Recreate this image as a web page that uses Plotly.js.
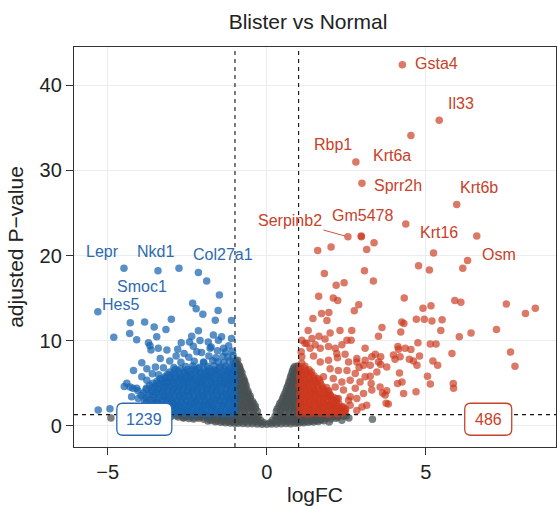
<!DOCTYPE html>
<html>
<head>
<meta charset="utf-8">
<script src="https://cdn.plot.ly/plotly-3.0.1.min.js"></script>
<style>html,body{margin:0;padding:0;background:#fff;}#chart{width:557px;height:506px;}</style>
</head>
<body>
<div id="chart"></div>
<script>
// ---------------- data (logFC, -log10 adjusted P) ----------------
const grayPts = [
[-2.85,1.18],[-2.70,1.22],[-2.55,1.15],[-2.40,1.24],[-2.25,1.19],[-2.10,1.12],[-1.95,1.25],[-1.80,1.20],[-1.65,1.16],[-1.50,1.23],[-1.35,1.14],[-1.20,1.21],[-1.05,1.26],
[1.05,1.20],[1.20,1.15],[1.35,1.24],[1.50,1.18],[1.65,1.22],[1.80,1.13],[1.95,1.25],[2.10,1.19],[2.25,1.16],[2.40,1.10],
[-2.78,1.02],[-2.62,0.98],[-2.47,1.05],[-2.32,0.96],[-2.17,1.03],[-2.02,0.99],[-1.87,1.06],[-1.72,0.94],[-1.57,1.01],[-1.42,0.97],[-1.28,1.04],[-1.12,0.95],
[1.12,1.00],[1.27,0.96],[1.42,1.04],[1.58,0.98],[1.73,1.02],[1.88,0.95],[2.05,1.05],[2.22,0.99],
[-2.62,0.92],[-2.45,0.85],[-2.30,0.80],[-2.14,0.88],[-1.98,0.76],[-1.82,0.83],[-1.67,0.72],[-1.52,0.79],[-1.37,0.70],[-1.22,0.75],[-1.07,0.68],
[1.08,0.72],[1.23,0.78],[1.38,0.70],[1.54,0.82],[1.70,0.76],[1.85,0.85],[2.02,0.80],[2.18,0.88],
[-1.85,0.55],[-1.62,0.48],[-1.45,0.42],[-1.30,0.36],[-1.15,0.33],[-1.02,0.30],[1.02,0.31],[1.16,0.36],[1.31,0.40],[1.47,0.45],[1.62,0.50],[1.80,0.58],
[-1.75,0.62],[-1.55,0.55],[-1.38,0.52],[-1.22,0.50],[-1.08,0.48],[-0.95,0.46],[-0.82,0.50],[-0.67,0.47],[-0.52,0.52],[-0.38,0.45],[-0.24,0.40],[-0.10,0.35],
[0.10,0.36],[0.24,0.42],[0.38,0.47],[0.52,0.51],[0.67,0.46],[0.82,0.49],[0.95,0.45],[1.10,0.50],[1.24,0.53],[1.40,0.55],[1.55,0.60],[1.70,0.66],
[-0.90,0.28],[-0.75,0.25],[-0.60,0.22],[-0.45,0.24],[-0.30,0.20],[-0.15,0.18],[0.00,0.17],[0.15,0.19],[0.30,0.21],[0.45,0.23],[0.60,0.26],[0.75,0.24],[0.90,0.29],
[-0.95,0.78],[-0.80,0.72],[-0.65,0.80],[-0.50,0.70],[-0.34,0.74],[-0.19,0.62],[0.18,0.64],[0.33,0.72],[0.48,0.79],[0.63,0.71],[0.79,0.77],[0.95,0.73],
[-0.90,1.00],[-0.74,0.96],[-0.59,1.03],[-0.44,0.95],[-0.31,0.98],[0.31,0.97],[0.46,1.02],[0.61,0.94],[0.76,1.01],[0.90,0.99],
[-0.97,1.22],[-0.82,1.18],[-0.67,1.25],[-0.52,1.15],[-0.38,1.20],[-0.26,1.12],[0.26,1.10],[0.40,1.22],[0.54,1.14],[0.69,1.24],[0.84,1.19],[0.97,1.26],
[-0.97,1.68],[-0.84,1.75],[-0.70,1.66],[-0.56,1.72],[-0.42,1.64],[-0.30,1.70],
[-0.91,2.00],[-0.77,1.96],[-0.63,2.04],[-0.49,1.98],[-0.36,2.02],
[-0.98,2.25],[-0.85,2.32],[-0.71,2.28],[-0.58,2.35],[-0.45,2.22],[-0.36,2.30],
[-0.90,2.60],[-0.77,2.56],[-0.64,2.63],[-0.51,2.58],[-0.41,2.62],
[-0.96,2.88],[-0.83,2.95],[-0.69,2.85],[-0.55,2.92],[-0.45,2.86],
[-0.91,3.20],[-0.78,3.16],[-0.65,3.23],[-0.52,3.18],
[-0.98,3.48],[-0.85,3.55],[-0.72,3.45],[-0.60,3.52],[-0.52,3.46],
[-0.91,3.80],[-0.78,3.76],[-0.65,3.83],[-0.57,3.78],
[-0.97,4.08],[-0.84,4.15],[-0.71,4.05],[-0.60,4.12],
[-0.91,4.40],[-0.78,4.36],[-0.66,4.43],
[-0.98,4.68],[-0.85,4.75],[-0.73,4.66],[-0.65,4.72],
[-0.91,5.00],[-0.79,4.96],[-0.69,5.03],
[-0.97,5.28],[-0.85,5.35],[-0.74,5.25],[-0.70,5.30],
[-0.92,5.60],[-0.82,5.56],[-0.74,5.63],
[-0.98,5.88],[-0.87,5.95],[-0.78,5.85],
[-0.92,6.20],[-0.84,6.16],[-0.78,6.23],
[-0.97,6.45],[-0.88,6.55],[-0.82,6.48],
[-0.93,6.80],[-0.85,6.76],
[-0.98,7.05],[-0.90,7.15],[-0.86,7.00],
[-0.97,7.60],[-0.92,7.70],[-0.99,7.35],
[0.30,1.66],[0.43,1.72],[0.56,1.68],[0.70,1.75],[0.84,1.64],[0.97,1.70],
[0.33,2.00],[0.46,1.96],[0.60,2.04],[0.74,1.98],[0.88,2.02],
[0.38,2.28],[0.50,2.34],[0.63,2.25],[0.76,2.31],[0.88,2.36],[0.98,2.27],
[0.41,2.60],[0.54,2.56],[0.67,2.63],[0.80,2.58],[0.93,2.62],
[0.46,2.86],[0.58,2.93],[0.70,2.88],[0.83,2.95],[0.96,2.90],
[0.50,3.20],[0.62,3.16],[0.75,3.23],[0.88,3.18],
[0.53,3.46],[0.64,3.53],[0.76,3.48],[0.88,3.55],[0.98,3.50],
[0.57,3.80],[0.69,3.76],[0.82,3.83],[0.94,3.78],
[0.60,4.06],[0.71,4.13],[0.83,4.08],[0.96,4.15],
[0.63,4.40],[0.75,4.36],[0.88,4.43],
[0.66,4.66],[0.77,4.74],[0.88,4.70],[0.98,4.76],
[0.69,5.00],[0.80,4.96],[0.92,5.03],
[0.71,5.26],[0.81,5.33],[0.91,5.28],[0.99,5.35],
[0.74,5.60],[0.85,5.56],[0.95,5.63],
[0.76,5.86],[0.86,5.94],[0.96,5.90],
[0.79,6.20],[0.89,6.16],[0.98,6.23],
[0.81,6.46],[0.90,6.53],[0.98,6.48],
[0.84,6.75],[0.93,6.72],
[0.88,6.95],[0.97,7.02],
[-4.90,0.90],[-3.02,1.05],[-3.18,1.20],[2.36,0.65],[3.32,0.75],[2.58,0.92],[2.50,1.15],[1.96,0.45]
];

const downPts = [
[-3.32,1.42],[-3.18,1.51],[-3.02,1.38],[-2.88,1.47],[-2.71,1.55],[-2.57,1.40],[-2.43,1.49],[-2.26,1.36],[-2.12,1.52],[-1.97,1.44],[-1.83,1.39],[-1.66,1.50],[-1.52,1.43],[-1.38,1.37],[-1.22,1.48],[-1.08,1.41],
[-3.45,1.72],[-3.25,1.66],[-3.10,1.75],[-2.95,1.69],[-2.80,1.78],[-2.64,1.64],[-2.50,1.71],[-2.34,1.77],[-2.19,1.68],[-2.04,1.74],[-1.90,1.65],[-1.74,1.79],[-1.59,1.70],[-1.45,1.67],[-1.30,1.76],[-1.15,1.73],[-1.02,1.69],
[-3.55,1.98],[-3.40,1.90],[-3.24,2.04],[-3.10,1.93],[-2.95,1.99],[-2.80,2.08],[-2.64,1.88],[-2.50,1.96],[-2.35,2.05],[-2.20,1.91],[-2.05,2.01],[-1.90,1.94],[-1.75,2.10],[-1.60,1.87],[-1.45,1.97],[-1.30,2.03],[-1.15,1.92],[-1.03,2.00],
[-3.62,2.22],[-3.45,2.30],[-3.30,2.18],[-3.16,2.27],[-3.00,2.33],[-2.86,2.20],[-2.71,2.29],[-2.56,2.24],[-2.42,2.35],[-2.27,2.19],[-2.12,2.28],[-1.97,2.23],[-1.82,2.31],[-1.67,2.17],[-1.52,2.26],[-1.37,2.34],[-1.22,2.21],[-1.07,2.29],
[-3.70,2.45],[-3.52,2.58],[-3.36,2.49],[-3.21,2.41],[-3.05,2.55],[-2.91,2.62],[-2.76,2.47],[-2.60,2.52],[-2.46,2.39],[-2.31,2.60],[-2.16,2.50],[-2.01,2.44],[-1.87,2.57],[-1.71,2.48],[-1.57,2.63],[-1.41,2.42],[-1.27,2.54],[-1.12,2.46],[-1.01,2.59],
[-3.78,2.78],[-3.60,2.85],[-3.43,2.74],[-3.27,2.88],[-3.12,2.80],[-2.97,2.72],[-2.83,2.86],[-2.68,2.77],[-2.53,2.90],[-2.38,2.75],[-2.23,2.83],[-2.08,2.79],[-1.94,2.87],[-1.79,2.73],[-1.64,2.82],[-1.49,2.89],[-1.34,2.76],[-1.19,2.84],[-1.04,2.81],
[-3.85,3.02],[-3.66,3.12],[-3.48,2.98],[-3.30,3.08],[-3.14,3.15],[-2.99,2.95],[-2.83,3.05],[-2.68,3.18],[-2.53,3.00],[-2.38,3.10],[-2.22,2.97],[-2.08,3.14],[-1.93,3.03],[-1.78,2.96],[-1.63,3.11],[-1.48,3.06],[-1.33,2.99],[-1.19,3.16],[-1.05,3.04],
[-3.80,3.30],[-3.57,3.38],[-3.40,3.33],[-3.22,3.42],[-3.06,3.28],[-2.91,3.36],[-2.75,3.44],[-2.61,3.31],[-2.45,3.39],[-2.30,3.27],[-2.15,3.35],[-2.00,3.43],[-1.85,3.29],[-1.70,3.37],[-1.56,3.32],[-1.41,3.40],[-1.26,3.34],[-1.12,3.26],[-1.01,3.41],
[-3.95,3.55],[-3.72,3.66],[-3.55,3.58],[-3.38,3.70],[-3.22,3.52],[-3.06,3.63],[-2.90,3.69],[-2.74,3.54],[-2.59,3.61],[-2.44,3.72],[-2.29,3.56],[-2.14,3.65],[-1.98,3.59],[-1.84,3.74],[-1.69,3.57],[-1.54,3.62],[-1.39,3.68],[-1.24,3.53],[-1.09,3.64],
[-3.88,3.85],[-3.64,3.93],[-3.47,3.88],[-3.30,3.97],[-3.14,3.82],[-2.98,3.90],[-2.82,3.95],[-2.67,3.84],[-2.51,3.92],[-2.36,3.87],[-2.21,3.98],[-2.06,3.83],[-1.91,3.91],[-1.76,3.86],[-1.61,3.96],[-1.46,3.89],[-1.31,3.81],[-1.16,3.94],[-1.04,3.88],
[-4.05,4.10],[-3.80,4.22],[-3.60,4.12],[-3.42,4.25],[-3.26,4.08],[-3.11,4.18],[-2.95,4.27],[-2.79,4.11],[-2.63,4.20],[-2.49,4.14],[-2.33,4.24],[-2.18,4.09],[-2.03,4.19],[-1.88,4.28],[-1.72,4.13],[-1.58,4.21],[-1.43,4.07],[-1.28,4.26],[-1.13,4.16],[-1.02,4.12],
[-3.78,4.42],[-3.58,4.50],[-3.41,4.38],[-3.25,4.47],[-3.09,4.53],[-2.93,4.40],[-2.77,4.49],[-2.62,4.44],[-2.47,4.55],[-2.32,4.39],[-2.17,4.46],[-2.02,4.52],[-1.87,4.41],[-1.72,4.48],[-1.57,4.43],[-1.42,4.51],[-1.27,4.37],[-1.12,4.47],
[-3.68,4.75],[-3.50,4.66],[-3.33,4.80],[-3.17,4.70],[-3.01,4.62],[-2.86,4.78],[-2.70,4.68],[-2.55,4.83],[-2.40,4.64],[-2.25,4.74],[-2.10,4.81],[-1.95,4.67],[-1.80,4.77],[-1.65,4.63],[-1.50,4.72],[-1.35,4.85],[-1.20,4.69],[-1.06,4.79],
[-3.58,4.98],[-3.40,5.05],[-3.24,4.95],[-3.09,5.08],[-2.93,5.02],[-2.78,4.94],[-2.62,5.06],[-2.47,5.00],[-2.32,5.10],[-2.17,4.96],[-2.02,5.04],[-1.87,4.99],[-1.72,5.07],[-1.57,4.93],[-1.42,5.03],[-1.27,5.09],[-1.12,4.97],[-1.02,5.01],
[-3.45,5.22],[-3.28,5.35],[-3.12,5.18],[-2.97,5.30],[-2.81,5.26],[-2.66,5.38],[-2.51,5.20],[-2.36,5.33],[-2.21,5.24],[-2.06,5.16],[-1.91,5.36],[-1.76,5.28],[-1.61,5.21],[-1.46,5.34],[-1.31,5.19],[-1.16,5.31],[-1.03,5.27],
[-3.35,5.52],[-3.19,5.58],[-3.04,5.49],[-2.89,5.60],[-2.74,5.55],[-2.59,5.47],[-2.44,5.62],[-2.28,5.51],[-2.12,5.57],[-1.97,5.48],[-1.81,5.61],[-1.65,5.53],[-1.50,5.59],[-1.35,5.46],[-1.19,5.56],[-1.06,5.50],
[-3.20,5.75],[-3.02,5.88],[-2.85,5.80],[-2.68,5.72],[-2.52,5.90],[-2.37,5.78],[-2.19,5.84],[-2.04,5.70],[-1.88,5.86],[-1.73,5.79],[-1.57,5.92],[-1.42,5.74],[-1.27,5.83],[-1.12,5.77],[-1.02,5.89],
[-3.12,6.05],[-2.94,6.15],[-2.76,6.08],[-2.58,6.12],[-2.41,6.02],[-2.25,6.17],[-2.10,6.06],[-1.95,6.13],[-1.80,6.00],[-1.64,6.16],[-1.49,6.09],[-1.33,6.04],[-1.18,6.14],[-1.04,6.07],
[-3.05,6.30],[-2.78,6.42],[-2.60,6.28],[-2.42,6.38],[-2.24,6.45],[-2.08,6.25],[-1.90,6.40],[-1.74,6.33],[-1.58,6.47],[-1.40,6.29],[-1.25,6.41],[-1.10,6.36],
[-2.88,6.62],[-2.70,6.70],[-2.50,6.58],[-2.32,6.66],[-2.15,6.72],[-1.98,6.60],[-1.81,6.68],[-1.66,6.56],[-1.50,6.74],[-1.33,6.63],[-1.17,6.69],[-1.03,6.61],
[-2.92,6.85],[-2.55,6.95],[-2.33,7.02],[-2.12,6.88],[-1.86,6.97],[-1.65,7.05],[-1.46,6.90],[-1.30,6.99],[-1.14,6.86],[-1.03,7.04],
[-2.70,7.45],[-2.28,7.58],[-1.98,7.40],[-1.70,7.62],[-1.52,7.50],[-1.35,7.44],[-1.18,7.60],[-1.05,7.52],
[-2.45,8.05],[-1.82,8.20],[-1.60,7.98],[-1.38,8.15],[-1.22,8.08],[-1.06,8.25],
[-2.05,8.60],[-1.55,8.80],[-1.30,8.65],[-1.08,8.75],[-1.75,9.25],[-1.20,9.40],
[-3.35,7.90],[-3.05,7.60],[-2.85,8.20],[-3.50,6.90],[-3.25,6.80],[-2.60,8.50],[-2.20,8.70],[-3.60,6.10],[-3.40,6.00],
[-1.89,17.0],[-1.49,15.35],[-2.33,14.4],[-2.22,13.75],[-1.53,13.55],[-2.01,13.1],[-3.00,12.5],[-1.62,12.4],[-1.11,12.35],
[-4.29,12.1],[-3.54,11.6],[-3.17,11.3],[-2.15,11.15],[-4.31,10.85],[-3.46,10.45],[-4.81,10.4],[-4.09,10.1],
[-2.36,10.5],[-1.68,10.65],[-1.42,10.45],[-1.11,10.25],[-2.10,10.0],[-3.72,9.75],[-3.67,9.4],[-2.69,9.75],[-2.43,9.85],
[-1.84,9.85],[-1.52,10.05],[-3.41,9.1],[-3.14,8.9],[-2.80,9.0],[-2.31,9.35],[-1.78,9.1],[-1.36,9.1],[-3.64,8.9],
[-3.93,7.4],[-1.99,7.5],[-4.19,6.5],[-3.77,6.7],[-3.93,5.75],[-3.77,5.35],[-4.40,5.0],[-4.48,4.6],[-4.21,4.4],
[-4.30,4.55],[-4.09,4.4],[-4.25,3.4],[-4.04,3.2],[-5.30,1.85],[-4.93,2.0],[-2.76,18.5]
];

const upPts = [
[1.03,1.42],[1.15,1.50],[1.28,1.38],[1.41,1.47],[1.55,1.53],[1.68,1.40],[1.82,1.45],[1.95,1.36],[2.09,1.49],[2.22,1.41],[2.36,1.52],
[1.09,1.72],[1.22,1.66],[1.35,1.75],[1.48,1.69],[1.62,1.78],[1.75,1.64],[1.88,1.71],[2.02,1.77],[2.16,1.68],[2.30,1.74],[2.45,1.65],
[1.05,1.98],[1.19,2.06],[1.33,1.93],[1.47,2.02],[1.61,1.95],[1.74,2.09],[1.88,1.90],[2.02,2.04],[2.15,1.97],[2.30,2.08],[2.48,1.94],
[1.10,2.22],[1.24,2.30],[1.38,2.18],[1.52,2.27],[1.66,2.33],[1.80,2.20],[1.94,2.29],[2.08,2.24],[2.22,2.35],[2.38,2.19],
[1.02,2.52],[1.14,2.60],[1.29,2.47],[1.43,2.56],[1.57,2.63],[1.70,2.49],[1.84,2.58],[1.98,2.45],[2.12,2.61],[2.27,2.54],
[1.07,2.78],[1.21,2.85],[1.35,2.74],[1.49,2.88],[1.63,2.80],[1.77,2.72],[1.91,2.86],[2.05,2.77],[2.19,2.90],
[1.06,3.08],[1.20,3.15],[1.34,3.02],[1.48,3.12],[1.62,3.05],[1.76,3.18],[1.90,3.00],[2.05,3.10],[2.20,3.16],
[1.11,3.30],[1.25,3.38],[1.39,3.33],[1.53,3.42],[1.67,3.28],[1.81,3.36],[1.95,3.44],[2.10,3.31],
[1.03,3.62],[1.16,3.70],[1.30,3.58],[1.44,3.67],[1.58,3.74],[1.72,3.60],[1.86,3.69],[2.00,3.56],
[1.09,3.85],[1.23,3.93],[1.37,3.88],[1.51,3.97],[1.65,3.82],[1.80,3.90],[1.94,3.95],
[1.08,4.18],[1.22,4.25],[1.36,4.12],[1.50,4.22],[1.64,4.15],[1.79,4.28],[1.95,4.10],
[1.05,4.42],[1.18,4.50],[1.32,4.38],[1.46,4.47],[1.60,4.53],[1.75,4.40],[1.88,4.49],
[1.02,4.72],[1.15,4.80],[1.29,4.68],[1.43,4.77],[1.58,4.83],[1.73,4.70],
[1.10,4.98],[1.24,5.05],[1.38,4.95],[1.53,5.08],[1.68,5.02],
[1.06,5.28],[1.20,5.35],[1.35,5.22],[1.50,5.31],[1.66,5.38],
[1.04,5.52],[1.19,5.58],[1.33,5.49],[1.48,5.60],[1.60,5.55],
[1.03,5.82],[1.17,5.90],[1.32,5.78],[1.48,5.88],
[1.10,6.05],[1.25,6.15],[1.38,6.08],
[1.08,6.38],[1.24,6.45],[1.40,6.32],
[1.05,6.62],[1.19,6.70],[1.33,6.58],
[1.04,6.92],[1.20,7.00],[1.10,7.35],
[2.97,22.3],[3.37,21.5],[3.14,20.7],[2.02,21.0],[1.60,20.6],[6.16,18.5],[5.24,20.3],[4.77,18.8],[5.11,18.3],[4.37,23.7],
[1.81,17.9],[3.07,18.2],[3.35,17.0],[2.43,16.8],[2.18,16.5],[1.63,15.2],[2.09,15.0],[2.23,14.7],[2.89,14.2],[4.32,15.0],
[4.91,13.8],[5.16,14.1],[5.91,14.7],[6.10,14.5],[7.53,14.3],[8.13,13.2],[8.44,13.8],[2.75,13.5],[1.72,13.2],[1.95,13.3],
[1.45,12.6],[1.89,12.35],[4.24,12.2],[4.31,12.0],[4.70,12.5],[4.95,12.5],[5.19,12.3],[5.51,12.45],[3.62,11.55],[1.30,11.2],
[2.30,11.2],[2.67,11.2],[4.21,11.0],[5.47,11.2],[6.42,10.9],[7.22,11.3],[3.51,10.5],[6.05,10.45],[1.64,10.5],[1.99,10.9],
[1.83,10.2],[2.52,10.05],[2.65,10.05],[1.42,10.25],[1.10,10.05],[1.20,9.7],[1.52,9.5],[2.36,9.5],[4.75,9.75],[5.14,9.6],
[5.32,9.6],[4.12,9.3],[4.35,9.1],[1.36,9.1],[1.68,9.1],[1.94,9.3],[2.15,9.1],[3.09,9.1],[4.53,8.95],[4.14,9.0],
[1.08,8.7],[2.20,8.5],[2.46,8.4],[3.41,8.4],[3.98,8.3],[5.82,8.5],[7.66,8.65],[4.80,8.2],[1.10,8.1],[1.47,8.2],
[2.22,8.0],[3.30,8.1],[3.58,8.1],[4.19,8.1],[2.83,7.9],[4.03,7.8],[4.48,7.8],[4.61,7.6],[5.22,7.6],[1.68,7.5],
[1.94,7.7],[2.57,7.5],[2.83,7.5],[3.09,7.7],[3.51,7.5],[3.25,7.1],[3.04,7.1],[3.77,6.9],[4.72,7.1],[5.37,7.1],
[7.80,7.0],[2.90,6.85],[1.99,6.7],[2.25,6.5],[2.52,6.5],[3.46,6.3],[4.17,6.2],[2.78,6.15],[3.09,5.75],[3.25,5.8],
[1.78,5.75],[5.05,5.8],[2.09,5.55],[2.36,5.15],[2.62,5.35],[2.93,5.15],[3.28,4.95],[4.25,5.15],[4.11,4.95],[5.14,4.9],
[5.86,4.95],[3.56,4.55],[2.15,4.55],[2.41,4.2],[2.78,4.4],[3.30,4.2],[5.87,4.4],[3.77,4.1],[4.69,4.0],[1.99,3.6],
[3.04,3.8],[3.64,3.85],[4.30,3.8],[3.72,3.6],[2.62,3.4],[2.25,3.2],[2.83,3.2],[2.57,3.0],[3.75,2.65],[3.82,2.55],
[3.14,2.4],[2.62,2.4],[2.15,2.4],[2.99,2.2],[2.41,2.2],[2.25,1.6],[2.46,1.8],[2.83,1.8],[3.58,7.2],[1.26,9.7]
];

// labelled genes
const geneName = ['Gsta4','Il33','Krt6a','Rbp1','Sprr2h','Krt6b','Gm5478','Serpinb2','Krt16','Osm',
                  'Lepr','Nkd1','Col27a1','Smoc1','Hes5'];
const geneFC   = [4.26, 5.42, 4.53, 2.80, 2.99, 5.97, 2.97, 2.55, 6.60, 6.31,
                  -4.49, -3.42, -2.15, -3.84, -5.31];
const genePadj = [42.4, 35.9, 34.1, 31.0, 28.5, 26.0, 22.2, 22.2, 22.3, 19.4,
                  18.5, 18.2, 18.0, 12.2, 13.4];
const geneDir  = ['up','up','up','up','up','up','up','up','up','up',
                  'down','down','down','down','down'];

const degCounts = [1239, 486];   // down, up
const fcCut = 1;
const padjCut = 0.05;
const xTickVals = [-5, 0, 5];
const yTickVals = [0, 10, 20, 30, 40];

// ---------------- styling / layout ----------------
const FONT = 'Liberation Sans, Arial, Helvetica, sans-serif';
const BLUE_PT = 'rgba(22,100,176,0.72)';
const RED_PT = 'rgba(204,56,30,0.68)';
const GRAY_PT = 'rgba(72,80,82,0.72)';
const BLUE_TXT = '#2C6AB1';
const RED_TXT = '#C8412A';

// text offsets (pixels) of each gene label relative to its point
const labelShift = {
  Gsta4:[34,1], Il33:[22,17], Krt6a:[-19,-20], Rbp1:[-23,17], Sprr2h:[36,-2], Krt6b:[22,17],
  Gm5478:[1,21], Krt16:[-38,3], Osm:[31,6], Lepr:[-21,17], Nkd1:[-2,19], Col27a1:[25,18],
  Smoc1:[-3,35], Hes5:[23,7]
};

const hline = -Math.log10(padjCut);
const isDown = geneDir.map(d => d === 'down');

const downAll = downPts.concat(geneFC.map((x,i)=>[x,genePadj[i]]).filter((p,i)=>isDown[i]));
const upAll = upPts.concat(geneFC.map((x,i)=>[x,genePadj[i]]).filter((p,i)=>!isDown[i]));

function trace(pts, color){
  return {type:'scatter', mode:'markers', x:pts.map(p=>p[0]), y:pts.map(p=>p[1]),
    marker:{size:7.5, color:color, line:{width:0}}, hoverinfo:'skip', showlegend:false};
}
const data = [trace(grayPts, GRAY_PT), trace(downAll, BLUE_PT), trace(upAll, RED_PT)];

const annotations = [];
geneName.forEach((g,i)=>{
  const col = isDown[i] ? BLUE_TXT : RED_TXT;
  if (g === 'Serpinb2') {
    annotations.push({x:geneFC[i], y:genePadj[i], xref:'x', yref:'y', text:g, showarrow:true,
      arrowhead:0, arrowwidth:0.9, arrowcolor:col, ax:-58, ay:-16, standoff:3,
      font:{family:FONT, size:16, color:col}});
  } else {
    const s = labelShift[g];
    annotations.push({x:geneFC[i], y:genePadj[i], xref:'x', yref:'y', text:g, showarrow:false,
      xshift:s[0], yshift:s[1], font:{family:FONT, size:16, color:col}});
  }
});
// count boxes
const boxPos = [[-3.85, 0.76, 55, BLUE_TXT], [6.96, 0.76, 47, RED_TXT]];
const shapes = [
  {type:'line', xref:'x', yref:'paper', x0:-fcCut, x1:-fcCut, y0:0, y1:1, line:{color:'#111', width:1.1, dash:'4px,4px'}},
  {type:'line', xref:'x', yref:'paper', x0:fcCut, x1:fcCut, y0:0, y1:1, line:{color:'#111', width:1.1, dash:'4px,4px'}},
  {type:'line', xref:'paper', yref:'y', x0:0, x1:1, y0:hline, y1:hline, line:{color:'#111', width:1.1, dash:'4px,4px'}}
];
function rrect(w,h,r){
  const a=w/2, b=h/2;
  return `M ${-a+r},${-b} L ${a-r},${-b} Q ${a},${-b} ${a},${-b+r} L ${a},${b-r} Q ${a},${b} ${a-r},${b} `+
         `L ${-a+r},${b} Q ${-a},${b} ${-a},${b-r} L ${-a},${-b+r} Q ${-a},${-b} ${-a+r},${-b} Z`;
}
boxPos.forEach((b,i)=>{
  shapes.push({type:'path', xref:'x', yref:'y', xsizemode:'pixel', ysizemode:'pixel',
    xanchor:b[0], yanchor:b[1], path:rrect(b[2],32,6), fillcolor:'#fff', line:{color:b[3], width:1.3}});
  annotations.push({x:b[0], y:b[1], xref:'x', yref:'y', text:String(degCounts[i]), showarrow:false,
    font:{family:FONT, size:16, color:b[3]}});
});

const axisCommon = {showline:true, mirror:true, linecolor:'#333', linewidth:1.2, ticks:'outside', ticklen:7,
  tickwidth:1.2, tickcolor:'#333', gridcolor:'#EAEDF0', gridwidth:1, zeroline:false,
  tickfont:{family:FONT, size:20, color:'#222'}};

const layout = {
  width:557, height:506, paper_bgcolor:'#fff', plot_bgcolor:'#fff',
  margin:{l:74, r:1, t:47, b:59},
  title:{text:'Blister vs Normal', x:308/557, xref:'container', xanchor:'center', y:1-22/506, yref:'container', yanchor:'middle',
    font:{family:FONT, size:21, color:'#222'}},
  xaxis:Object.assign({}, axisCommon, {range:[-6.06, 9.09], tickvals:xTickVals,
    title:{text:'logFC', font:{family:FONT, size:21, color:'#222'}, standoff:6}}),
  yaxis:Object.assign({}, axisCommon, {range:[-2.5, 44.5], tickvals:yTickVals,
    title:{text:'adjusted P\u2212value', font:{family:FONT, size:21, color:'#222'}, standoff:10}}),
  shapes:shapes, annotations:annotations
};
Plotly.newPlot('chart', data, layout, {staticPlot:true, displayModeBar:false});
</script>
</body>
</html>
